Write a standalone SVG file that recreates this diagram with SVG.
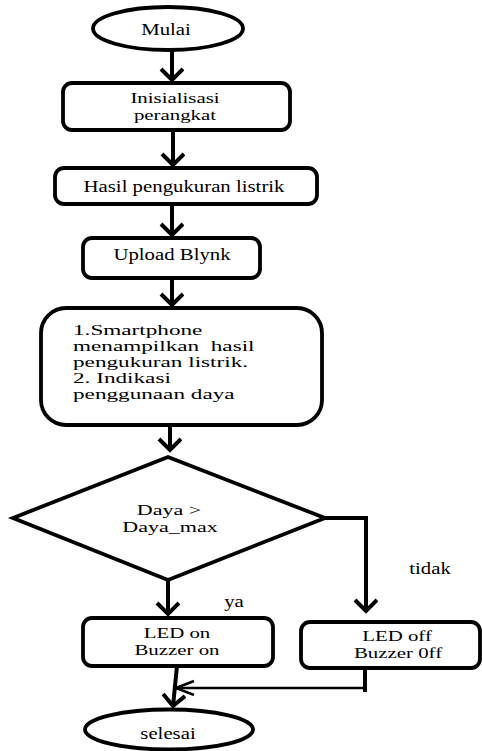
<svg xmlns="http://www.w3.org/2000/svg" width="482" height="751" viewBox="0 0 482 751" font-family="'Liberation Serif', 'Times New Roman', 'DejaVu Serif', serif">
<defs>
<style>
.shape{fill:#fff;stroke:#000;stroke-width:3.8}
.line{fill:none;stroke:#000;stroke-width:4}
.thin{fill:none;stroke:#000;stroke-width:2.5}
text{font-family:'Liberation Serif','Times New Roman','DejaVu Serif',serif;font-size:16px;fill:#000;white-space:pre}
.c{text-anchor:middle}
.two{font-size:15px}
.big{font-size:14.5px}
</style>
<marker id="arrow" markerUnits="userSpaceOnUse" markerWidth="26" markerHeight="26" refX="13" refY="12" orient="auto" viewBox="0 0 26 26">
<path d="M2,1 L13,12 L2,23" fill="none" stroke="#000" stroke-width="4" stroke-linejoin="miter"/>
</marker>
<marker id="arrowThin" markerUnits="userSpaceOnUse" markerWidth="22" markerHeight="18" refX="19" refY="8" orient="auto" viewBox="0 0 22 18">
<path d="M1,1 L19,8 L1,15" fill="none" stroke="#000" stroke-width="2.5"/>
</marker>
</defs>
<rect width="482" height="751" fill="#fff"/>
<g id="connectors">
<line class="line" x1="172" y1="50" x2="172" y2="80" marker-end="url(#arrow)"/>
<line class="line" x1="173" y1="130" x2="173" y2="165" marker-end="url(#arrow)"/>
<line class="line" x1="172" y1="204" x2="172" y2="235" marker-end="url(#arrow)"/>
<line class="line" x1="172" y1="278" x2="172" y2="305" marker-end="url(#arrow)"/>
<line class="line" x1="170" y1="425" x2="170" y2="450" marker-end="url(#arrow)"/>
<line class="line" x1="168" y1="580" x2="168" y2="614" marker-end="url(#arrow)"/>
<polyline class="line" points="325,518 366,518 366,611" marker-end="url(#arrow)"/>
<line class="line" x1="177" y1="666" x2="173" y2="706" marker-end="url(#arrow)"/>
<line class="line" x1="365" y1="668" x2="365" y2="692"/>
<line class="thin" x1="365" y1="688" x2="176" y2="688" marker-end="url(#arrowThin)"/>
</g>
<g id="mulai">
<ellipse class="shape" cx="168" cy="28.5" rx="75" ry="21.5"/>
<text transform="translate(166,35) scale(1.3,1)" class="c">Mulai</text>
</g>
<g id="inisialisasi">
<rect class="shape" x="63" y="83" width="227" height="47" rx="9"/>
<text class="c two" transform="translate(175,103) scale(1.39,1)">Inisialisasi</text>
<text class="c two" transform="translate(175,120) scale(1.39,1)">perangkat</text>
</g>
<g id="hasil">
<rect class="shape" x="55" y="168" width="262" height="36" rx="9"/>
<text transform="translate(184,192) scale(1.3,1)" class="c">Hasil pengukuran listrik</text>
</g>
<g id="upload">
<rect class="shape" x="83" y="238" width="177" height="40" rx="9"/>
<text transform="translate(172,260) scale(1.3,1)" class="c">Upload Blynk</text>
</g>
<g id="smartphone">
<rect class="shape" x="41" y="308" width="281" height="117" rx="25"/>
<text class="big" transform="translate(73,335) scale(1.6,1)">1.Smartphone</text>
<text class="big" transform="translate(73,351) scale(1.6,1)">menampilkan  hasil</text>
<text class="big" transform="translate(73,367) scale(1.6,1)">pengukuran listrik.</text>
<text class="big" transform="translate(73,383) scale(1.6,1)">2. Indikasi</text>
<text class="big" transform="translate(73,399) scale(1.6,1)">penggunaan daya</text>
</g>
<g id="decision">
<polygon class="shape" points="168,457 325,518 168,580 13,518"/>
<text class="c two" transform="translate(169,515) scale(1.47,1)">Daya &gt;</text>
<text class="c two" transform="translate(170,532) scale(1.47,1)">Daya_max</text>
</g>
<g id="labels">
<text transform="translate(430,574) scale(1.3,1)" class="c">tidak</text>
<text transform="translate(234,607) scale(1.3,1)" class="c">ya</text>
</g>
<g id="ledon">
<rect class="shape" x="83" y="618" width="190" height="48" rx="9"/>
<text class="c two" transform="translate(177,638) scale(1.39,1)">LED on</text>
<text class="c two" transform="translate(177,655) scale(1.39,1)">Buzzer on</text>
</g>
<g id="ledoff">
<rect class="shape" x="301" y="622" width="179" height="46" rx="9"/>
<text class="c two" transform="translate(397,641) scale(1.39,1)">LED off</text>
<text class="c two" transform="translate(398,658) scale(1.39,1)">Buzzer 0ff</text>
</g>
<g id="selesai">
<ellipse class="shape" cx="169" cy="729.5" rx="84" ry="20"/>
<text transform="translate(168,739) scale(1.3,1)" class="c">selesai</text>
</g>
</svg>
